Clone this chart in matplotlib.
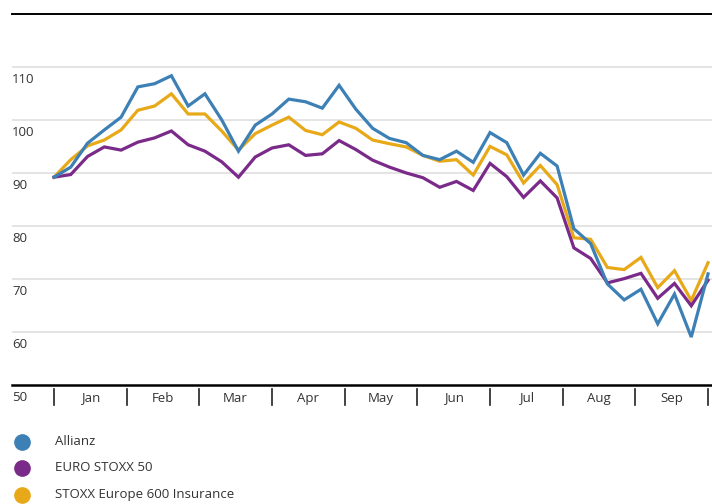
import matplotlib
matplotlib.use("Agg")
import matplotlib.pyplot as plt
import matplotlib.transforms as mtransforms
from matplotlib.lines import Line2D
import numpy as np

plt.rcParams['font.family'] = ['Open Sans', 'DejaVu Sans']

months = ["Jan", "Feb", "Mar", "Apr", "May", "Jun", "Jul", "Aug", "Sep"]
series_names = ["Allianz", "EURO STOXX 50", "STOXX Europe 600 Insurance"]

# weekly index values
allianz = [89.2, 91.1, 95.6, 98.1, 100.5, 106.2, 106.8, 108.3, 102.6, 104.9,
           100.0, 94.1, 99.0, 101.1, 103.9, 103.4, 102.2, 106.5, 102.0, 98.4,
           96.5, 95.7, 93.3, 92.5, 94.1, 92.0, 97.6, 95.7, 89.6, 93.7,
           91.3, 79.5, 76.7, 69.1, 66.1, 68.1, 61.6, 67.2, 59.1, 71.0]
eurostoxx = [89.2, 89.7, 93.1, 94.9, 94.3, 95.8, 96.6, 97.9, 95.3, 94.1,
             92.1, 89.2, 93.0, 94.7, 95.3, 93.3, 93.6, 96.1, 94.4, 92.4,
             91.1, 90.0, 89.1, 87.3, 88.4, 86.7, 91.8, 89.3, 85.4, 88.5,
             85.3, 75.9, 73.9, 69.3, 70.1, 71.1, 66.4, 69.2, 65.0, 69.8]
insurance = [89.2, 92.5, 95.1, 96.2, 98.1, 101.8, 102.6, 104.9, 101.1, 101.1,
             97.9, 94.3, 97.4, 99.0, 100.5, 98.0, 97.2, 99.6, 98.4, 96.2,
             95.5, 94.9, 93.3, 92.2, 92.5, 89.6, 95.0, 93.4, 88.1, 91.4,
             87.8, 77.8, 77.5, 72.2, 71.8, 74.1, 68.4, 71.6, 66.0, 73.1]
y_ticks = [50, 60, 70, 80, 90, 100, 110]

colors = ["#3d80b5", "#7a2a88", "#e8a919"]
text_color = "#333333"

fig = plt.figure(figsize=(7.12, 5.04), dpi=100)
ax = fig.add_axes([12 / 712, 1 - 385.4 / 504, 700 / 712, (385.4 - 13.6) / 504])

n = len(allianz)
x = np.arange(n) * len(months) / (n - 1)

# draw yellow first, then purple, blue on top
for vals, c in [(insurance, colors[2]), (eurostoxx, colors[1]), (allianz, colors[0])]:
    ax.plot(x, vals, color=c, lw=2.3, solid_joinstyle='miter', zorder=3)

ax.set_ylim(50, 120)
ax.set_xlim(-42 / 72.67, (712 - 54) / 72.67)

for v in y_ticks[1:]:
    ax.axhline(v, color="#dcdcdc", lw=1.1, zorder=1)

for s in ["left", "right"]:
    ax.spines[s].set_visible(False)
ax.spines["top"].set_linewidth(1.4)
ax.spines["bottom"].set_linewidth(1.8)
ax.set_xticks([])
ax.set_yticks([])

# y labels sit just under their gridline
off = mtransforms.offset_copy(ax.get_yaxis_transform(), fig=fig, x=0, y=-12.5, units='dots')
for v in y_ticks:
    ax.text(0, v, str(v), transform=off, ha='left', va='center',
            fontsize=9.5, color=text_color)

# month separators and labels
bt = ax.get_xaxis_transform()
for k in range(len(months) + 1):
    ax.plot([k, k], [-0.0097, -0.0527], transform=bt, color="#222222",
            lw=1.2, clip_on=False)
for k, m in enumerate(months):
    ax.text(k + 0.5, -0.034, m, transform=bt, ha='center', va='center',
            fontsize=9.5, color=text_color)

# legend
leg_y = [441.5, 467.5, 494.5]
for name, c, yy in zip(series_names, colors, leg_y):
    fy = 1 - yy / 504
    fig.add_artist(Line2D([22 / 712], [fy], marker='o', markersize=11,
                          color=c, lw=0, transform=fig.transFigure))
    fig.text(55 / 712, fy, name, ha='left', va='center', fontsize=9.5,
             color=text_color)

fig.savefig("out.png", dpi=100)
